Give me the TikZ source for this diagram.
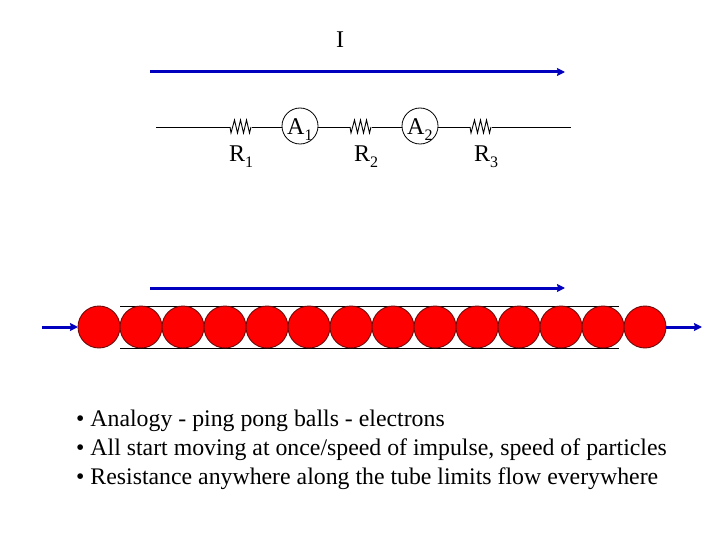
\documentclass[tikz,border=0pt]{standalone}
\usepackage{fontspec}
\setmainfont{Liberation Serif}
\usetikzlibrary{arrows.meta,calc}
\definecolor{arrowblue}{RGB}{0,0,190}
\definecolor{ballred}{RGB}{255,0,0}
\definecolor{ballline}{RGB}{110,10,10}
\newcommand{\lbl}[2]{#1\raisebox{-0.25em}{\fontsize{16}{16}\selectfont #2}}
\newcommand{\zigzag}[1]{%
  \draw[wire] ($(#1)+(-11,0)$) -- ++(1,6) -- ++(3.5,-13) -- ++(3,13) -- ++(3,-13) -- ++(3,13) -- ++(3,-13) -- ++(3,13) -- ++(1.5,-6);}
\tikzset{
  wire/.style={black,line width=0.9pt},
  flow/.style={arrowblue,line width=3pt,-{Stealth[length=8pt,width=8pt,inset=1pt]}},
  ball/.style={circle,draw=ballline,fill=ballred,line width=0.9pt,minimum size=42pt,inner sep=0pt,outer sep=0pt},
  meter/.style={circle,draw=black,line width=0.8pt,minimum size=36pt,inner sep=0pt,outer sep=0pt},
  label/.style={inner sep=0pt,font=\fontsize{24}{24}\selectfont},
  bullets/.style={inner sep=0pt,anchor=base west,font=\fontsize{23.8}{24}\selectfont}
}
\begin{document}
\begin{tikzpicture}[x=1pt,y=-1pt]
\useasboundingbox (0,0) rectangle (720,540);
% current
\node[label] (I) at (340,40) {I};
\coordinate (t1) at (150,72); \coordinate (t2) at (565,72);
\draw[flow] (t1) -- (t2);
% circuit
\coordinate (w0) at (156,127); \coordinate (w1) at (571,127);
\coordinate (r1) at (241,127); \coordinate (r2) at (361,127); \coordinate (r3) at (481,127);
\node[meter] (A1) at (300,126) {};
\node[meter] (A2) at (420,126) {};
\node[label,anchor=base west] (A1t) at (287,135) {\lbl{A}{1}};
\node[label,anchor=base west] (A2t) at (407,135) {\lbl{A}{2}};
\draw[wire] (w0) -- ($(r1)+(-11,0)$);
\draw[wire] ($(r1)+(11,0)$) -- (A1.west |- r1);
\draw[wire] (A1.east |- r1) -- ($(r2)+(-11,0)$);
\draw[wire] ($(r2)+(11,0)$) -- (A2.west |- r2);
\draw[wire] (A2.east |- r2) -- ($(r3)+(-11,0)$);
\draw[wire] ($(r3)+(11,0)$) -- (w1);
\zigzag{r1}\zigzag{r2}\zigzag{r3}
\node[label,anchor=base west] (R1) at (229,162) {\lbl{R}{1}};
\node[label,anchor=base west] (R2) at (354,162) {\lbl{R}{2}};
\node[label,anchor=base west] (R3) at (474,162) {\lbl{R}{3}};
% tube
\coordinate (b1) at (150,288); \coordinate (b2) at (565,288);
\draw[flow] (b1) -- (b2);
\coordinate (tl) at (120,306); \coordinate (tr) at (619,306);
\coordinate (ul) at (120,348); \coordinate (ur) at (619,348);
\draw[wire] (tl) -- (tr);
\draw[wire] (ul) -- (ur);
\foreach \i in {0,...,13} {
  \node[ball] (ball\i) at ({99+42*\i},327) {};
}
\coordinate (inl) at (42,327); \coordinate (outr) at (702,327);
\draw[flow] (inl) -- (ball0.west);
\draw[flow] (ball13.east) -- (outr);
% text
\node[bullets] (n1) at (76,426) {• Analogy - ping pong balls - electrons};
\node[bullets] (n2) at (76,455) {• All start moving at once/speed of impulse, speed of particles};
\node[bullets] (n3) at (76,484) {• Resistance anywhere along the tube limits flow everywhere};
\end{tikzpicture}
\end{document}
